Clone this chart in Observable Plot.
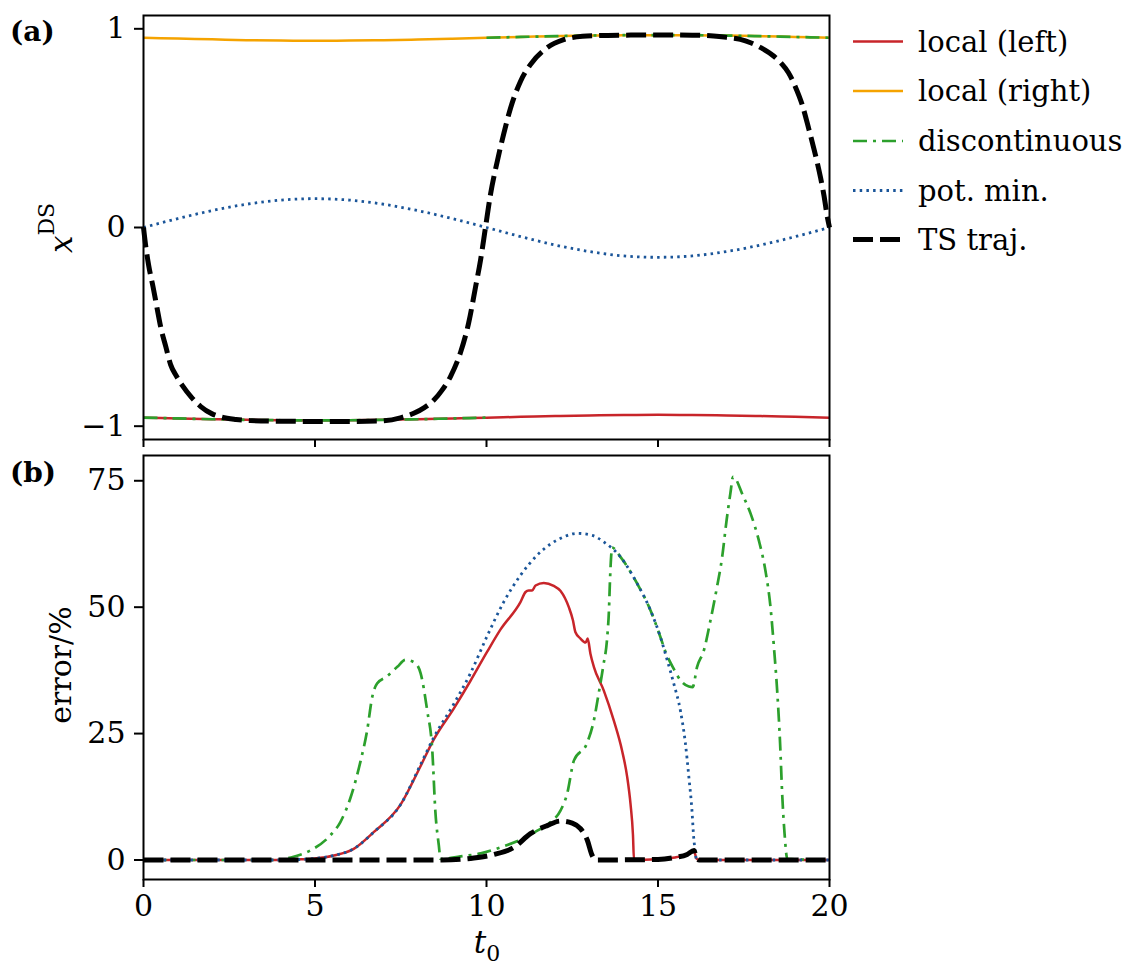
<!DOCTYPE html>
<html><head><meta charset="utf-8">
<script src="https://cdn.jsdelivr.net/npm/d3@7"></script>
<script src="https://cdn.jsdelivr.net/npm/@observablehq/plot@0.6"></script>
<style>
body{margin:0;background:#fff;}
#wrap{position:relative;width:1131px;height:970px;font-family:"DejaVu Serif",serif;color:#000;}
</style></head><body><div id="wrap"></div>
<script>
// ---------- data ----------
const xTicks = [0, 5, 10, 15, 20];
const yTicksA = [-1, 0, 1];
const yTicksB = [0, 25, 50, 75];
const seriesNames = ["local (left)", "local (right)", "discontinuous", "pot. min.", "TS traj."];

// panel (a): x^DS vs t0
const tA = [0,1,2,3,4,5,6,7,8,9,10,11,12,13,14,15,16,17,18,19,20];
const localLeftA  = [-0.957,-0.961,-0.965,-0.968,-0.970,-0.971,-0.970,-0.968,-0.965,-0.961,-0.957,-0.953,-0.949,-0.946,-0.944,-0.943,-0.944,-0.946,-0.949,-0.953,-0.957];
const localRightA = [0.955,0.951,0.947,0.943,0.941,0.940,0.941,0.943,0.946,0.950,0.955,0.959,0.963,0.966,0.968,0.968,0.968,0.966,0.963,0.959,0.955];
const potMinA     = [0,0.045,0.085,0.117,0.138,0.145,0.138,0.117,0.085,0.045,0,-0.046,-0.088,-0.121,-0.143,-0.150,-0.143,-0.121,-0.088,-0.046,0];
const discA_t   = [0,1,2,3,4,5,6,7,8,9,10, 10,11,12,13,14,15,16,17,18,19,20];
const discA_x   = [-0.957,-0.961,-0.965,-0.968,-0.970,-0.971,-0.970,-0.968,-0.965,-0.961,-0.957, 0.955,0.959,0.963,0.966,0.968,0.968,0.968,0.966,0.963,0.959,0.955];
const discA_seg = [0,0,0,0,0,0,0,0,0,0,0, 1,1,1,1,1,1,1,1,1,1,1];
const tsA_t = [0,0.07,0.15,0.28,0.4,0.5,0.65,0.79,0.95,1.13,1.4,1.66,2.0,2.25,2.7,3.12,4,5,6,6.9,7.49,7.88,8.2,8.46,8.7,8.95,9.24,9.48,9.68,9.83,9.97,10.12,10.31,10.5,10.7,10.99,11.28,11.77,12.25,12.8,13.3,14,15,16,16.62,17.0,17.4,17.7,18.0,18.38,18.6,18.8,19.0,19.2,19.39,19.54,19.74,19.84,19.94,20];
const tsA_x = [0,-0.10,-0.19,-0.30,-0.41,-0.50,-0.60,-0.69,-0.745,-0.795,-0.855,-0.90,-0.938,-0.953,-0.966,-0.972,-0.975,-0.976,-0.976,-0.974,-0.958,-0.935,-0.905,-0.87,-0.82,-0.75,-0.63,-0.48,-0.30,-0.16,0,0.17,0.33,0.47,0.60,0.735,0.82,0.905,0.945,0.962,0.966,0.968,0.969,0.968,0.964,0.957,0.947,0.93,0.905,0.862,0.825,0.78,0.71,0.62,0.50,0.40,0.25,0.16,0.05,0];

// panel (b): error / %
const leftB_t = [0,4,4.5,5,5.55,6.13,6.71,7.49,8.08,8.46,9.05,9.53,10.02,10.41,10.99,11.14,11.23,11.33,11.43,11.67,11.96,12.16,12.4,12.52,12.59,12.74,12.89,12.95,13.03,13.13,13.42,13.71,13.95,14.1,14.2,14.27,14.3,15.0,15.5,15.85,16.05,16.12,16.2,20];
const leftB_v = [0,0,0.1,0.3,0.9,2.2,5.5,10.9,18.6,23.8,30.0,35.4,41.2,45.6,51.0,53.0,53.3,53.3,54.3,54.8,54.2,53.2,50.0,47.4,45.1,43.8,43.0,43.8,40.8,38.2,33.5,27.6,21.7,16.5,11.0,5.0,0,0.2,0.5,1.1,1.8,0.3,0,0];
const potB_t = [0,4,5,5.55,6.13,6.71,7.49,8.08,8.46,9.05,9.53,10.02,10.5,10.99,11.48,12.25,12.64,13.08,13.42,13.91,14.39,14.78,15.07,15.27,15.46,15.66,15.8,15.9,15.99,16.04,16.09,16.12,16.2,20];
const potB_v = [0,0,0.3,0.9,2.2,5.5,10.9,18.9,24.2,30.9,36.9,44.3,51.0,56.3,60.3,63.9,64.6,64.2,62.9,59.9,54.7,49.4,44.1,39.5,34.9,29.3,23.0,16.4,9.8,4.5,1.5,0,0,0];
const discB_t = [0,3.9,4.3,4.87,5.45,5.74,6.03,6.33,6.52,6.67,6.81,7.10,7.4,7.64,7.93,8.08,8.27,8.42,8.51,8.61,8.66,9.24,9.83,10.41,10.99,11.48,11.87,12.16,12.35,12.55,12.93,13.13,13.27,13.4,13.52,13.57,13.6,13.64,13.66,13.91,14.39,14.78,15.07,15.2,15.46,15.66,15.9,16.01,16.14,16.34,16.53,16.72,16.87,17.0,17.11,17.19,17.26,17.45,17.7,17.94,18.13,18.28,18.38,18.48,18.56,18.62,18.69,18.77,20];
const discB_v = [0,0,0.5,1.9,4.9,7.5,12.2,19.6,25.6,32.3,34.9,36.3,38.2,39.6,38.9,36.9,29.6,21.6,9.5,2.9,0.2,0.7,1.3,2.5,4.0,5.8,7.5,9.8,13.1,19.7,23.1,27.6,32.9,38.2,44.1,49.4,55.3,60.6,61.8,59.9,54.7,49.4,44.1,41.5,37.8,35.5,34.3,34.2,38.2,41.5,47.4,54.0,59.9,67.2,72.5,75.8,75.4,72.5,68.5,63.2,57.3,50.0,42.1,32.9,23.0,13.1,5.2,0.2,0];
const tsB_t = [0,8.7,9.63,10.22,10.8,11.28,11.77,12.16,12.5,12.74,12.94,13.08,13.18,15.0,15.5,15.85,16.05,16.12,16.2,20];
const tsB_v = [0,0,0.4,1.1,2.5,5.2,6.8,7.7,7.3,6.2,3.9,0.9,0,0.1,0.5,1.1,1.9,0.3,0,0];

// ---------- styles ----------
const FONT = "DejaVu Serif";
const S = [
  {stroke: "#c8252a", strokeWidth: 2.5, dash: null},
  {stroke: "#f5a300", strokeWidth: 2.5, dash: null},
  {stroke: "#2ca02c", strokeWidth: 2.7, dash: "14,6,3,6"},
  {stroke: "#1a5599", strokeWidth: 2.8, dash: "2.5,4.2"},
  {stroke: "#000000", strokeWidth: 5, dash: "20,7"}
];
const rows = (t, v, z) => t.map((d, i) => ({t: d, v: v[i], z: z ? z[i] : 0}));
const lineOpts = (k) => ({x: "t", y: "v", z: "z", curve: "monotone-x", stroke: S[k].stroke, strokeWidth: S[k].strokeWidth, strokeDasharray: S[k].dash, strokeLinecap: "butt", strokeLinejoin: "round"});

const common = {
  width: 850, marginLeft: 143, marginRight: 21,
  style: {fontFamily: FONT, fontSize: "30px", background: "transparent", overflow: "visible"},
  x: {domain: [0, 20]}
};

const plotA = Plot.plot({
  ...common,
  height: 447, marginTop: 15, marginBottom: 8,
  y: {domain: [-1.067, 1.067]},
  marks: [
    Plot.line(rows(tA, localLeftA), lineOpts(0)),
    Plot.line(rows(tA, localRightA), lineOpts(1)),
    Plot.line(rows(discA_t, discA_x, discA_seg), lineOpts(2)),
    Plot.line(rows(tA, potMinA), lineOpts(3)),
    Plot.line(rows(tsA_t, tsA_x), lineOpts(4)),
    Plot.frame({stroke: "black", strokeWidth: 2}),
    Plot.axisX(xTicks, {tickSize: 8, strokeWidth: 2, fill: "none", label: null}),
    Plot.axisY(yTicksA, {tickSize: 9, strokeWidth: 2, tickPadding: 9, tickFormat: d3.format("d"), label: null})
  ]
});

const plotB = Plot.plot({
  ...common,
  height: 523, marginTop: 8, marginBottom: 91,
  y: {domain: [-3.86, 80.0]},
  marks: [
    Plot.line(rows(leftB_t, leftB_v), lineOpts(0)),
    Plot.line(rows(discB_t, discB_v), lineOpts(2)),
    Plot.line(rows(potB_t, potB_v), lineOpts(3)),
    Plot.line(rows(tsB_t, tsB_v), lineOpts(4)),
    Plot.frame({stroke: "black", strokeWidth: 2}),
    Plot.axisX(xTicks, {tickSize: 8, strokeWidth: 2, tickPadding: 7, tickFormat: d3.format("d"), label: null}),
    Plot.axisY(yTicksB, {tickSize: 9, strokeWidth: 2, tickPadding: 9, tickFormat: d3.format("d"), label: null})
  ]
});

const wrap = document.getElementById("wrap");
plotA.style.position = "absolute"; plotA.style.left = "0px"; plotA.style.top = "0px";
plotB.style.position = "absolute"; plotB.style.left = "0px"; plotB.style.top = "447px";
wrap.appendChild(plotA);
wrap.appendChild(plotB);

// ---------- labels and legend ----------
const ov = d3.select(wrap).append("svg")
  .attr("width", 1131).attr("height", 970)
  .style("position", "absolute").style("left", "0px").style("top", "0px")
  .style("pointer-events", "none")
  .attr("font-family", FONT).attr("fill", "#000");

ov.append("text").attr("x", 10).attr("y", 41).attr("font-size", 28).attr("font-weight", "bold").text("(a)");
ov.append("text").attr("x", 10).attr("y", 482).attr("font-size", 28).attr("font-weight", "bold").text("(b)");

const yl = ov.append("text").attr("transform", "translate(72,228) rotate(-90)")
  .attr("text-anchor", "middle").attr("font-size", 31);
yl.append("tspan").attr("font-style", "italic").text("x");
yl.append("tspan").attr("dy", -18).attr("font-size", 22).text("DS");

ov.append("text").attr("transform", "translate(71,665) rotate(-90)")
  .attr("text-anchor", "middle").attr("font-size", 30).text("error/%");

const xl = ov.append("text").attr("x", 487).attr("y", 953).attr("text-anchor", "middle").attr("font-size", 31);
xl.append("tspan").attr("font-style", "italic").text("t");
xl.append("tspan").attr("dy", 8).attr("font-size", 22).text("0");

const legY = [41.5, 91, 141, 190.5, 239.5];
seriesNames.forEach((name, i) => {
  const ln = ov.append("line").attr("x1", 853).attr("x2", 903).attr("y1", legY[i]).attr("y2", legY[i])
    .attr("stroke", S[i].stroke).attr("stroke-width", S[i].strokeWidth);
  if (S[i].dash) ln.attr("stroke-dasharray", S[i].dash);
  ov.append("text").attr("x", 918).attr("y", legY[i]).attr("dy", "0.36em").attr("font-size", 29).text(name);
});
</script></body></html>
